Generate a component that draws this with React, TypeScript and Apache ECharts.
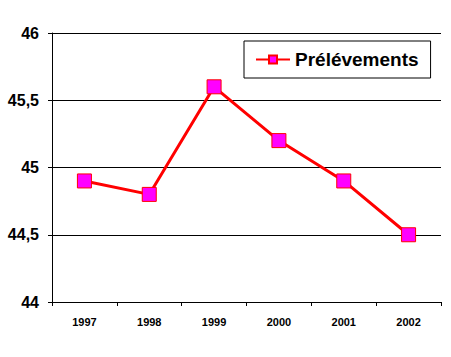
import React, { useEffect, useRef } from "react";
import * as echarts from "echarts";

const categories = ["1997", "1998", "1999", "2000", "2001", "2002"];
const values = [44.9, 44.8, 45.6, 45.2, 44.9, 44.5];
const seriesName = "Prélévements";

export default function App() {
  const ref = useRef<HTMLDivElement>(null);
  useEffect(() => {
    const chart = echarts.init(ref.current!, null, { renderer: "svg" });
    chart.setOption({
      animation: false,
      backgroundColor: "#ffffff",
      textStyle: { fontFamily: "Liberation Sans, Arial, sans-serif" },
      grid: { left: 52, right: 10, top: 33, bottom: 55 },
      legend: {
        left: 244,
        top: 41,
        padding: [9, 12, 9, 11],
        borderColor: "#000",
        borderWidth: 1,
        borderRadius: 0,
        itemWidth: 34,
        itemHeight: 10,
        itemGap: 0,
        textStyle: { fontSize: 19, fontWeight: "bold", color: "#000" },
        data: [seriesName],
      },
      xAxis: {
        type: "category",
        data: categories,
        boundaryGap: true,
        axisLine: { lineStyle: { color: "#000", width: 1 } },
        axisTick: { show: true, length: 4, lineStyle: { color: "#000" } },
        axisLabel: { color: "#000", fontSize: 11, fontWeight: "bold", margin: 14 },
      },
      yAxis: {
        type: "value",
        min: 44,
        max: 46,
        interval: 0.5,
        axisLine: { show: true, lineStyle: { color: "#000", width: 1 } },
        axisTick: { show: true, length: 4, lineStyle: { color: "#000" } },
        splitLine: { show: true, lineStyle: { color: "#000", width: 1 } },
        axisLabel: {
          color: "#000",
          fontSize: 16,
          fontWeight: "bold",
          margin: 13,
          formatter: (v: number) => String(v).replace(".", ","),
        },
      },
      series: [
        {
          name: seriesName,
          type: "line",
          data: values,
          symbol: "rect",
          symbolSize: 14,
          lineStyle: { color: "#ff0000", width: 3 },
          itemStyle: { color: "#ff00ff", borderColor: "#ff0000", borderWidth: 1 },
        },
      ],
    });
    return () => chart.dispose();
  }, []);
  return (
    <div
      ref={ref}
      style={{ position: "fixed", left: 0, top: 0, width: 451, height: 357 }}
    />
  );
}
